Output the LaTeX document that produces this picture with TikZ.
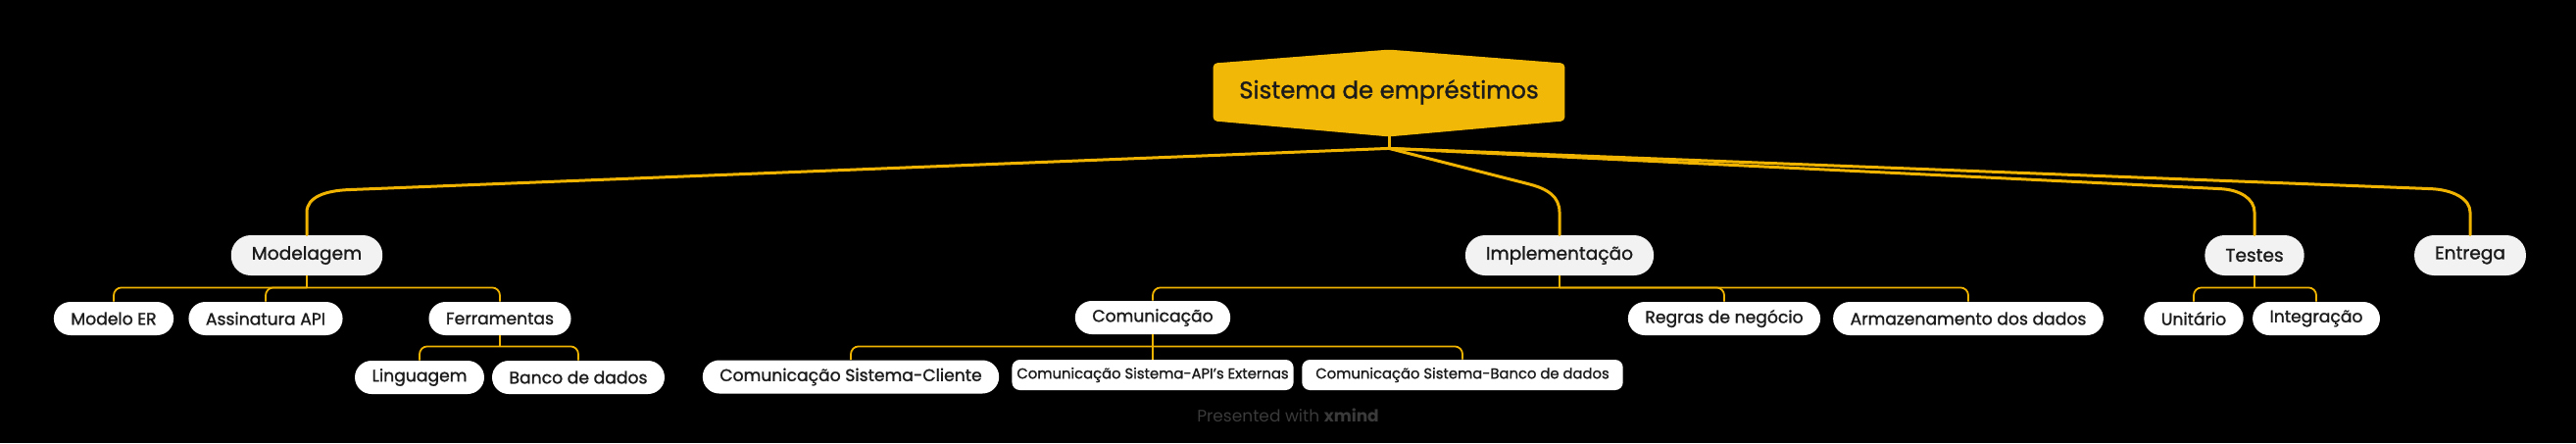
\documentclass[tikz,border=0pt]{standalone}
\usepackage{fontspec}
\setmainfont{Poppins}[FakeBold=1.2]
\newfontfamily\footfont{Poppins}
\usetikzlibrary{calc,backgrounds}
\definecolor{xgold}{RGB}{242,184,7}
\definecolor{xline}{RGB}{240,180,0}
\definecolor{xgrey}{RGB}{242,242,242}
\definecolor{xtext}{RGB}{27,27,27}
\definecolor{xfoot}{RGB}{58,58,58}
\tikzset{
  roottopic/.style={rectangle, text=xtext, font=\fontsize{12.2}{14}\selectfont, minimum width=179pt, minimum height=29pt},
  topic/.style={rectangle, rounded corners=10pt, fill=xgrey, text=xtext, font=\fontsize{9.3}{11}\selectfont, inner xsep=10.5pt, inner ysep=0pt, minimum height=20.5pt},
  subtopic/.style={rectangle, rounded corners=8.5pt, fill=white, text=xtext, font=\fontsize{8.6}{10}\selectfont, inner xsep=8.75pt, inner ysep=0pt, minimum height=17pt},
  smalltopic/.style={subtopic, rounded corners=4pt, font=\fontsize{7.4}{8}\selectfont, minimum height=15.5pt},
  branch/.style={draw=xline, line width=1.5pt, line cap=round},
  twig/.style={draw=xline, line width=0.9pt, rounded corners=4pt},
}
\begin{document}
\begin{tikzpicture}[x=0.5pt, y=-0.5pt]
\useasboundingbox (0,0) rectangle (2628,452);
% central topic
\node[roottopic] (root) at (1417,94) {Sistema de empréstimos};
\begin{scope}[on background layer]
\fill[black] (0,0) rectangle (2628,452);
\fill[xgold, rounded corners=2pt] (root.north west) -- ($(root.north)+(0,-14)$) -- (root.north east)
  -- (root.south east) -- ($(root.south)+(0,16)$) -- (root.south west) -- cycle;
\end{scope}
\coordinate (rootbot) at ($(root.south)+(0,16)$);
\coordinate (hub) at ($(root.south)+(0,28)$);
\draw[branch] (rootbot) -- (hub);
% main topics
\node[topic] (mod) at (313,260.5){Modelagem};
\node[topic] (impl) at (1591,260.5){Implementação};
\node[topic] (test) at (2300,260.5){Testes};
\node[topic] (entr) at (2520,260.5){Entrega};
\draw[branch] (hub) -- ($(mod.north)+(42,-46)$) .. controls +(-22,1) and +(0,-16) .. ($(mod.north)+(0,-23)$) -- (mod.north);
\draw[branch] (hub) -- ($(impl.north)+(-32,-52)$) .. controls +(20,5) and +(0,-16) .. ($(impl.north)+(0,-23)$) -- (impl.north);
\draw[branch] (hub) -- ($(test.north)+(-35,-47)$) .. controls +(20,1) and +(0,-14) .. ($(test.north)+(0,-23)$) -- (test.north);
\draw[branch] (hub) -- ($(entr.north)+(-40,-47)$) .. controls +(22,1) and +(0,-14) .. ($(entr.north)+(0,-23)$) -- (entr.north);
% Modelagem
\node[subtopic] (er) at (116,325){Modelo ER};
\node[subtopic] (api) at (271,325){Assinatura API};
\node[subtopic] (ferr) at (510,325){Ferramentas};
\node[subtopic] (ling) at (428,385){Linguagem};
\node[subtopic] (bd) at (590,385){Banco de dados};
\coordinate (modbar) at ($(mod.south)+(0,12)$);
\draw[twig] (mod.south) -- (modbar);
\foreach \c in {er,api,ferr} \draw[twig] (modbar) -| (\c.north);
\coordinate (ferrbar) at ($(ferr.south)+(0,11)$);
\draw[twig] (ferr.south) -- (ferrbar);
\foreach \c in {ling,bd} \draw[twig] (ferrbar) -| (\c.north);
% Implementacao
\node[subtopic] (comu) at (1176,324){Comunicação};
\node[subtopic] (regras) at (1759,325){Regras de negócio};
\node[subtopic] (armaz) at (2008,325){Armazenamento dos dados};
\node[subtopic] (cli) at (868,384.5){Comunicação Sistema-Cliente};
\node[smalltopic, inner xsep=2.5pt] (ext) at (1176,382.5){Comunicação Sistema-API's Externas};
\node[smalltopic, inner xsep=7pt] (bdc) at (1492,382.5){Comunicação Sistema-Banco de dados};
\coordinate (implbar) at ($(impl.south)+(0,12)$);
\draw[twig] (impl.south) -- (implbar);
\foreach \c in {comu,regras,armaz} \draw[twig] (implbar) -| (\c.north);
\coordinate (comubar) at ($(comu.south)+(0,12)$);
\draw[twig] (comu.south) -- (comubar);
\foreach \c in {cli,ext,bdc} \draw[twig] (comubar) -| (\c.north);
% Testes
\node[subtopic] (unit) at (2238,325){Unitário};
\node[subtopic] (integ) at (2363,325){Integração};
\coordinate (testbar) at ($(test.south)+(0,12)$);
\draw[twig] (test.south) -- (testbar);
\foreach \c in {unit,integ} \draw[twig] (testbar) -| (\c.north);
% footer
\node[text=xfoot, font=\footfont\fontsize{8.5}{10}\selectfont] (credit) at (1314,424){Presented with \textbf{xmind}};
\end{tikzpicture}
\end{document}
